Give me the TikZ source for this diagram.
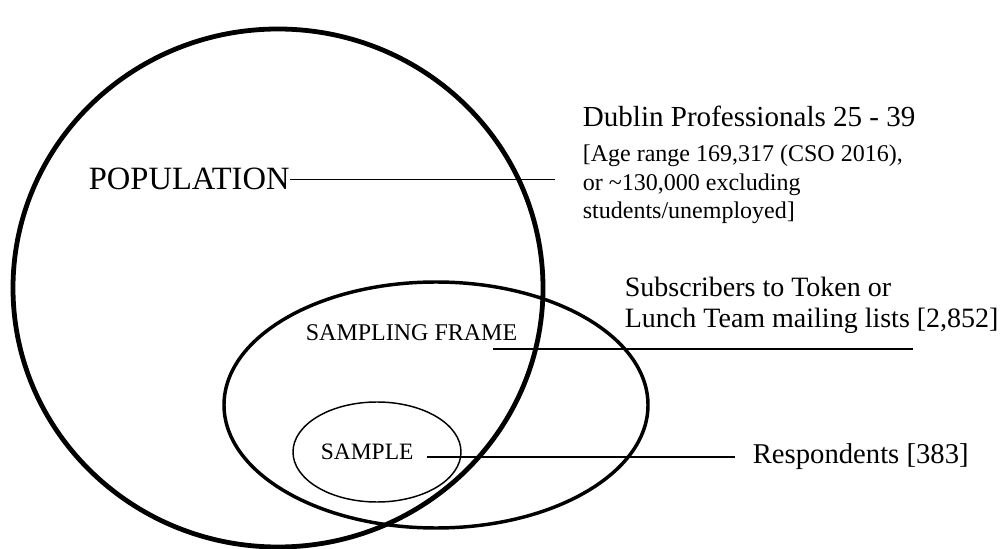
\documentclass[tikz,border=0pt]{standalone}
\usepackage{fontspec}
\setmainfont{Liberation Serif}
\usetikzlibrary{shapes.geometric,positioning}

\begin{document}
\begin{tikzpicture}[-,x=0.75pt,y=-0.75pt,line width=1.3pt]
		\tikzstyle{region}=[draw=black,ellipse,inner sep=0pt]
		\tikzstyle{regiontext}=[inner sep=0pt,anchor=base west,text=black]
		\tikzstyle{desctext}=[inner sep=0pt,anchor=base west,align=left,text=black]
		\useasboundingbox (0,0) rectangle (1008,549);
		\node[region]    (pop) at (278,288) [line width=3.6pt,minimum width=397.5pt,minimum height=388.5pt]   {};
		\node[region]    (frame) at (436,405) [line width=2.6pt,minimum width=318pt,minimum height=184.5pt] {};
		\node[region]    (sample) at (377,452) [line width=1.1pt,minimum width=126pt,minimum height=75pt]   {};
		\node[regiontext,font=\fontsize{24.4}{29}\selectfont]    (poptext) at (88,190)    {POPULATION};
		\node[regiontext,font=\fontsize{18}{21}\selectfont]      (frametext) at (305,340) {SAMPLING FRAME};
		\node[regiontext,font=\fontsize{17.6}{21}\selectfont]    (sampletext) at (320,459) {SAMPLE};
		\coordinate (popend) at (555,178);
		\coordinate (framestart) at (493,349);
		\coordinate (frameend) at (913,349);
		\coordinate (samplestart) at (427,457);
		\coordinate (sampleend) at (735,457);
		\node[desctext,font=\fontsize{21.8}{26}\selectfont]      (popdesc) at (582,127)   {Dublin Professionals 25 - 39};
		\node[desctext,anchor=north west,font=\fontsize{18}{21.4}\selectfont] (popnote) at (582,144)
			{[Age range 169,317 (CSO 2016),\\or \textasciitilde130,000 excluding\\students/unemployed]};
		\node[desctext,anchor=north west,font=\fontsize{21}{23.25}\selectfont] (framedesc) at (624,276)
			{Subscribers to Token or\\Lunch Team mailing lists [2,852]};
		\node[inner sep=0pt,font=\fontsize{21.5}{26}\selectfont,right=12.75pt of sampleend] (sampledesc) {Respondents [383]};
		\path
		(poptext.east) edge (poptext.east -| popend)
		(framestart) edge (frameend)
		(samplestart) edge (sampleend);
	\end{tikzpicture}
\end{document}
